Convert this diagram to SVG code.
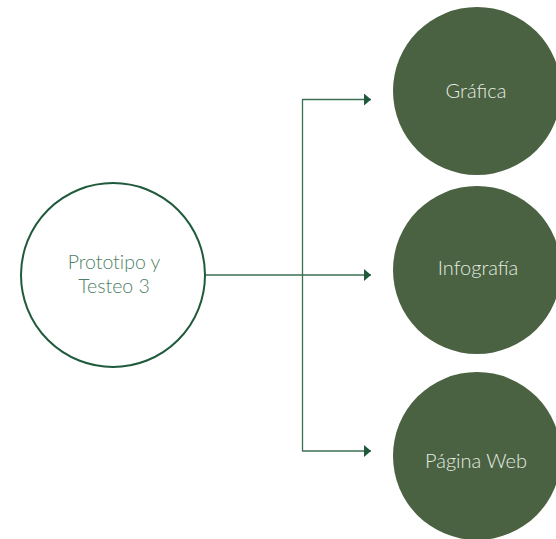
<svg xmlns="http://www.w3.org/2000/svg" width="556" height="539" viewBox="0 0 556 539">
  <style>
    .hub { fill: #ffffff; stroke: #1f5a3c; stroke-width: 2; }
    .leaf { fill: #4a6241; }
    .hub-label { font-family: Lato, "Open Sans", sans-serif; font-weight: 300; font-size: 19.5px; fill: #4f8066; text-anchor: middle; font-variant-ligatures: none; }
    .leaf-label { font-family: Lato, "Open Sans", sans-serif; font-weight: 300; font-size: 20px; fill: #e4ebe2; text-anchor: middle; }
    .link { fill: none; stroke: #3c6e53; stroke-width: 1.3; }
  </style>
  <defs>
    <marker id="arrow" markerUnits="userSpaceOnUse" markerWidth="8" markerHeight="12" refX="7" refY="6" orient="auto">
      <path d="M0,0 L7,6 L0,12 Z" fill="#1f5a3c"/>
    </marker>
  </defs>

  <g id="connectors">
    <path class="link" d="M205,275 H371" marker-end="url(#arrow)"/>
    <path class="link" d="M302.5,99.5 V451"/>
    <path class="link" d="M302,99.5 H371" marker-end="url(#arrow)"/>
    <path class="link" d="M302,451 H371" marker-end="url(#arrow)"/>
  </g>

  <g id="node-prototipo">
    <circle class="hub" cx="113" cy="275" r="92"/>
    <text class="hub-label" x="114" y="268.5">Prototipo y</text>
    <text class="hub-label" x="114" y="292.5">Testeo 3</text>
  </g>

  <g id="node-grafica">
    <circle class="leaf" cx="477" cy="91" r="84"/>
    <text class="leaf-label" x="476" y="98">Gráfica</text>
  </g>

  <g id="node-infografia">
    <circle class="leaf" cx="477" cy="270" r="84"/>
    <text class="leaf-label" x="478" y="275">Infografía</text>
  </g>

  <g id="node-pagina-web">
    <circle class="leaf" cx="477" cy="456" r="84"/>
    <text class="leaf-label" x="476" y="468">Página Web</text>
  </g>
</svg>
